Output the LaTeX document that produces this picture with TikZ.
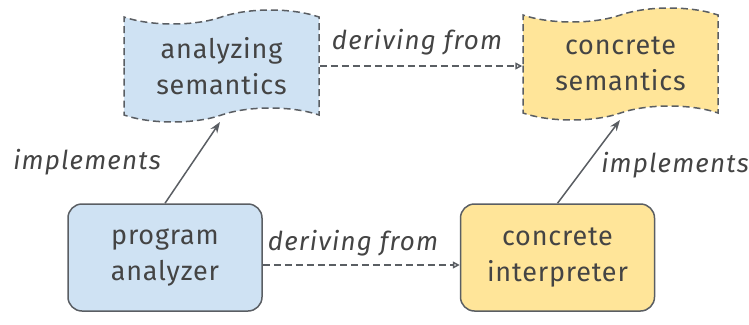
\documentclass[tikz,border=0pt]{standalone}
\usepackage{fontspec}
\setmainfont{Fira Sans}
\newfontfamily\boxfont[LetterSpace=3]{Fira Sans}
\newfontfamily\lblfont[LetterSpace=4.5]{Fira Sans Italic}
\usetikzlibrary{shapes.symbols,arrows.meta}
\definecolor{bluefill}{HTML}{CFE2F3}
\definecolor{yellowfill}{HTML}{FFE599}
\definecolor{edge}{HTML}{5A5E63}
\definecolor{txt}{HTML}{444444}
\tikzset{
  boxnode/.style={draw=edge, line width=1.5pt, rounded corners=14pt, minimum width=194pt, minimum height=107pt, align=center, text=txt, font=\boxfont\fontsize{27}{36}\selectfont},
  tapenode/.style={tape, draw=edge, dash pattern=on 7pt off 4pt, line width=1.5pt, tape bend top=in and out, tape bend bottom=in and out, tape bend height=14pt, minimum width=195pt, minimum height=112pt, align=center, text=txt, font=\boxfont\fontsize{27}{36}\selectfont},
  implarrow/.style={draw=edge, line width=1.5pt, -{Stealth[length=11pt,width=8pt]}},
  derivarrow/.style={draw=edge, line width=1.5pt, dash pattern=on 7pt off 4pt, -{Triangle[open,length=7pt,width=7pt]}},
  lbl/.style={text=txt, font=\lblfont\fontsize{26}{30}\selectfont}
}
\begin{document}
\begin{tikzpicture}[x=1pt,y=-1pt]
\useasboundingbox (0,0) rectangle (749,324);
\node[boxnode, fill=bluefill] (pa) at (165,257.5) {program\\analyzer};
\node[boxnode, fill=yellowfill] (ci) at (557.5,257.5) {concrete\\interpreter};
\node[tapenode, fill=bluefill] (as) at (221.5,66) {analyzing\\semantics};
\node[tapenode, fill=yellowfill] (cs) at (620.5,64) {concrete\\semantics};
\coordinate (asb) at (220,122);
\coordinate (csb) at (620,120);
\draw[implarrow] (pa.north) -- (asb);
\draw[implarrow] (ci.north) -- (csb);
\draw[derivarrow] (as.east |- 0,66) -- (cs.west |- 0,66);
\draw[derivarrow] (pa.east |- 0,265) -- (ci.west |- 0,265);
\node[lbl] (l1) at (87,162) {implements};
\node[lbl] (l2) at (675,165) {implements};
\node[lbl] (l3) at (417,42) {deriving from};
\node[lbl] (l4) at (353,243) {deriving from};
\end{tikzpicture}
\end{document}
